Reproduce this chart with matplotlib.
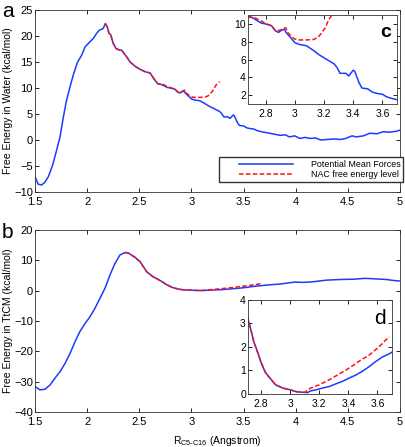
import matplotlib
matplotlib.use('Agg')
import matplotlib.pyplot as plt
from matplotlib.legend_handler import HandlerLine2D

plt.rcParams['font.family'] = ['Liberation Sans', 'DejaVu Sans']

# panel a: free energy in water
water_x = [1.50, 1.53, 1.564, 1.596, 1.628, 1.67, 1.708, 1.74, 1.77, 1.80, 1.836,
           1.867, 1.906, 1.948, 1.98, 2.027, 2.06, 2.09, 2.117, 2.14, 2.155, 2.174,
           2.193, 2.21, 2.225, 2.25, 2.277, 2.31, 2.33, 2.379, 2.41, 2.459, 2.507,
           2.555, 2.603, 2.65, 2.68, 2.71, 2.74, 2.77, 2.80, 2.84, 2.87, 2.89,
           2.91, 2.93, 2.94, 2.97, 3.00, 3.03, 3.08, 3.13, 3.17, 3.22, 3.27, 3.29,
           3.31, 3.35, 3.37, 3.40, 3.41, 3.44, 3.46, 3.50, 3.53, 3.56, 3.60, 3.63,
           3.67, 3.75, 3.85, 3.90, 3.94, 3.99, 4.04, 4.09, 4.14, 4.19, 4.24, 4.30,
           4.37, 4.43, 4.48, 4.54, 4.58, 4.65, 4.71, 4.78, 4.84, 4.90, 4.97, 5.00]
water_pmf = [-7.05, -8.5, -8.65, -8.1, -7.05, -4.8, -1.9, 0.6, 4.2, 7.4, 10.25,
             12.5, 14.9, 16.35, 17.9, 18.9, 19.55, 20.5, 21.15, 21.3, 21.5, 22.4,
             21.8, 20.5, 20.3, 18.6, 17.6, 17.3, 17.3, 16.0, 15.05, 14.2, 13.6,
             13.15, 12.9, 11.5, 10.8, 10.7, 10.4, 10.1, 10.0, 9.8, 9.2, 9.05,
             9.3, 9.4, 9.05, 8.5, 7.9, 7.7, 7.55, 7.0, 6.5, 6.0, 5.5, 5.1,
             4.45, 4.45, 4.15, 4.8, 4.7, 3.4, 2.8, 2.7, 2.35, 2.2, 2.1, 1.8,
             1.6, 1.3, 0.9, 1.0, 0.6, 0.8, 0.3, 0.5, 0.3, 0.4, 0.0, 0.1,
             0.2, 0.1, 0.3, 0.8, 0.6, 0.8, 1.3, 1.2, 1.6, 1.5, 1.7, 1.9]
water_nac_x = [2.174, 2.193, 2.21, 2.225, 2.25, 2.277, 2.31, 2.33, 2.379, 2.41,
               2.459, 2.507, 2.555, 2.603, 2.65, 2.68, 2.72, 2.76, 2.80, 2.84,
               2.87, 2.90, 2.93, 2.94, 2.95, 2.98, 3.00, 3.03, 3.08, 3.13, 3.16,
               3.18, 3.21, 3.23, 3.25, 3.27]
water_nac = [22.4, 21.8, 20.5, 20.3, 18.6, 17.6, 17.3, 17.3, 16.0, 15.05,
             14.2, 13.6, 13.15, 12.9, 11.5, 10.8, 10.75, 10.4, 10.05, 9.8,
             9.2, 9.3, 9.55, 9.55, 9.05, 8.55, 8.3, 8.2, 8.2, 8.25, 8.5,
             8.9, 9.6, 10.4, 10.9, 11.2]

# panel b: free energy in TtCM
ttcm_x = [1.50, 1.548, 1.596, 1.644, 1.69, 1.74, 1.788, 1.836, 1.884, 1.93, 1.98,
          2.027, 2.075, 2.123, 2.171, 2.219, 2.267, 2.315, 2.363, 2.39, 2.41, 2.459,
          2.507, 2.57, 2.63, 2.71, 2.73, 2.75, 2.78, 2.80, 2.83, 2.87, 2.90, 2.95,
          3.00, 3.04, 3.09, 3.12, 3.14, 3.18, 3.22, 3.27, 3.31, 3.36, 3.41, 3.45,
          3.50, 3.54, 3.59, 3.63, 3.68, 3.75, 3.85, 3.99, 4.06, 4.14, 4.30, 4.43,
          4.56, 4.66, 4.74, 4.87, 4.93, 5.00]
ttcm_pmf = [-31.6, -32.7, -32.5, -31.1, -28.9, -26.7, -24.0, -20.7, -16.8, -13.5, -10.8,
            -8.6, -5.8, -2.5, 0.8, 5.2, 9.0, 11.8, 12.6, 12.5, 12.1, 11.0,
            9.6, 6.3, 4.65, 3.17, 2.73, 2.22, 1.71, 1.34, 0.91, 0.61, 0.39, 0.25,
            0.18, 0.10, 0.07, 0.06, 0.13, 0.18, 0.25, 0.32, 0.42, 0.54, 0.69, 0.80,
            0.98, 1.15, 1.39, 1.56, 1.71, 1.95, 2.2, 2.85, 2.75, 2.85, 3.5, 3.7,
            3.8, 4.07, 3.95, 3.7, 3.4, 3.2]
ttcm_nac_x = [2.363, 2.39, 2.41, 2.459, 2.507, 2.57, 2.63, 2.71, 2.73, 2.75, 2.78,
              2.80, 2.83, 2.87, 2.90, 2.95, 3.00, 3.04, 3.10, 3.14, 3.20, 3.27,
              3.34, 3.41, 3.48, 3.54, 3.61, 3.68]
ttcm_nac = [12.6, 12.5, 12.1, 11.0, 9.6, 6.3, 4.65, 3.2, 2.73, 2.22, 1.71,
            1.34, 0.91, 0.61, 0.39, 0.25, 0.18, 0.10, 0.07, 0.25, 0.39, 0.61,
            0.86, 1.12, 1.42, 1.64, 2.0, 2.44]

legend_labels = ['Potential Mean Forces', 'NAC free energy level']
main_xticks = [1.5, 2, 2.5, 3, 3.5, 4, 4.5, 5]
main_xlabels = ['1.5', '2', '2.5', '3', '3.5', '4', '4.5', '5']
inset_xticks = [2.8, 3.0, 3.2, 3.4, 3.6]
inset_xlabels = ['2.8', '3', '3.2', '3.4', '3.6']

BLUE = '#1a3cff'
RED = '#ff1010'


class IndentedLine(HandlerLine2D):
    """Legend line that leaves an empty gap on its left, like MATLAB."""

    def get_xdata(self, legend, xdescent, ydescent, width, height, fontsize):
        xdata, xmark = super().get_xdata(legend, xdescent, ydescent, width,
                                         height, fontsize)
        return [-xdescent + 0.25 * width, -xdescent + width], xmark


def style(ax, fs=8):
    ax.tick_params(direction='in', top=True, right=True, labelsize=fs,
                   length=3, width=0.6)
    ax.tick_params(axis='x', pad=3.5)
    ax.tick_params(axis='y', pad=1.5)
    for s in ax.spines.values():
        s.set_linewidth(0.6)
        s.set_color('#333333')


def curves(ax, x1, y1, x2, y2, lw=1.1):
    l1, = ax.plot(x1, y1, color=BLUE, lw=lw)
    l2, = ax.plot(x2, y2, color=RED, lw=lw, ls=(0, (3, 1.5)))
    return l1, l2


fig = plt.figure(figsize=(4.06, 4.47), dpi=100)

ax_a = fig.add_axes([0.0862, 0.5705, 0.899, 0.407])
l1, l2 = curves(ax_a, water_x, water_pmf, water_nac_x, water_nac)
ax_a.set_xlim(1.5, 5)
ax_a.set_ylim(-10, 25)
ax_a.set_xticks(main_xticks)
ax_a.set_xticklabels(main_xlabels)
ax_a.set_yticks(range(-10, 26, 5))
ax_a.set_ylabel('Free Energy in Water (kcal/mol)', fontsize=7.5, labelpad=1)
style(ax_a)
fig.legend([l1, l2], legend_labels,
           loc='upper left', bbox_to_anchor=(219 / 406, 1 - 157 / 447),
           borderaxespad=0, fontsize=6.4, handlelength=8.0, handletextpad=2.0,
           borderpad=0.3, labelspacing=0.2, fancybox=False,
           edgecolor='#333333', framealpha=1,
           handler_map={l1: IndentedLine(), l2: IndentedLine()})

ax_c = fig.add_axes([0.6108, 0.7673, 0.367, 0.1991])
curves(ax_c, water_x, water_pmf, water_nac_x, water_nac)
ax_c.set_xlim(2.68, 3.70)
ax_c.set_ylim(1, 11)
ax_c.set_xticks(inset_xticks)
ax_c.set_xticklabels(inset_xlabels)
ax_c.set_yticks([2, 4, 6, 8, 10])
style(ax_c, 7.5)
ax_c.text(0.96, 0.9, 'c', transform=ax_c.transAxes, fontsize=14,
          fontweight='bold', ha='right', va='top')

ax_b = fig.add_axes([0.0862, 0.0783, 0.899, 0.407])
curves(ax_b, ttcm_x, ttcm_pmf, ttcm_nac_x, ttcm_nac)
ax_b.set_xlim(1.5, 5)
ax_b.set_ylim(-40, 20)
ax_b.set_xticks(main_xticks)
ax_b.set_xticklabels(main_xlabels)
ax_b.set_yticks(range(-40, 21, 10))
ax_b.set_ylabel('Free Energy in TtCM (kcal/mol)', fontsize=7.5, labelpad=1)
ax_b.set_xlabel(r'R$_{\mathregular{C5\text{-}C16}}$ (Angstrom)', fontsize=7.5,
                labelpad=5)
style(ax_b)

ax_d = fig.add_axes([0.6108, 0.1186, 0.3547, 0.2103])
curves(ax_d, ttcm_x, ttcm_pmf, ttcm_nac_x, ttcm_nac)
ax_d.set_xlim(2.71, 3.70)
ax_d.set_ylim(0, 4)
ax_d.set_xticks(inset_xticks)
ax_d.set_xticklabels(inset_xlabels)
ax_d.set_yticks([0, 1, 2, 3, 4])
style(ax_d, 7.5)
ax_d.text(0.96, 0.9, 'd', transform=ax_d.transAxes, fontsize=15,
          ha='right', va='top')

fig.text(0.005, 0.995, 'a', fontsize=15, va='top')
fig.text(0.005, 0.5, 'b', fontsize=15, va='top')

fig.savefig('out.png', dpi=100)
